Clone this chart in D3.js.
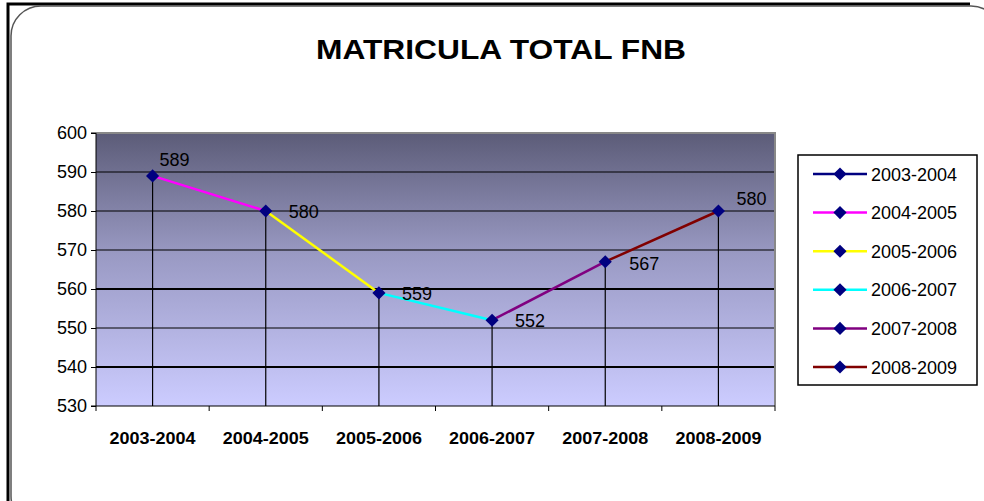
<!DOCTYPE html>
<html>
<head>
<meta charset="utf-8">
<script src="https://cdn.jsdelivr.net/npm/d3@7"></script>
<style>
  body { margin: 0; background: #fff; }
  svg { display: block; }
</style>
</head>
<body>
<svg id="chart"></svg>
<script>
// school years (categories) and total enrolment
const years = ["2003-2004", "2004-2005", "2005-2006", "2006-2007", "2007-2008", "2008-2009"];
const totals = [589, 580, 559, 552, 567, 580];
// each series joins the previous year to its own year
const seriesColors = ["#000080", "#ff00ff", "#ffff00", "#00ffff", "#800080", "#800000"];
const yTicks = [530, 540, 550, 560, 570, 580, 590, 600];

const width = 984, height = 501;
const margin = {top: 133, right: 209, bottom: 95, left: 96};
const font = "Liberation Sans, Arial, sans-serif";

const svg = d3.select("#chart")
    .attr("width", width)
    .attr("height", height);

// frame
svg.append("path")
    .attr("d", "M8,501 V4 H970")
    .attr("fill", "none")
    .attr("stroke", "#000")
    .attr("stroke-width", 3);
svg.append("rect")
    .attr("x", 11).attr("y", 6)
    .attr("width", 990).attr("height", 520)
    .attr("rx", 30)
    .attr("fill", "none")
    .attr("stroke", "#555")
    .attr("stroke-width", 1.5);

svg.append("text")
    .attr("x", 501)
    .attr("y", 59)
    .attr("text-anchor", "middle")
    .attr("font-family", font)
    .attr("font-weight", "bold")
    .attr("font-size", 28)
    .attr("textLength", 370)
    .attr("lengthAdjust", "spacingAndGlyphs")
    .text("MATRICULA TOTAL FNB");

const plotW = width - margin.left - margin.right;
const plotH = height - margin.top - margin.bottom;

const x = d3.scaleBand().domain(years).range([0, plotW]);
const y = d3.scaleLinear().domain([530, 600]).range([plotH, 0]);

const defs = svg.append("defs");
const grad = defs.append("linearGradient")
    .attr("id", "bg")
    .attr("x1", 0).attr("y1", 0).attr("x2", 0).attr("y2", 1);
grad.append("stop").attr("offset", "0%").attr("stop-color", "#5c5c78");
grad.append("stop").attr("offset", "45%").attr("stop-color", "#9a9ac4");
grad.append("stop").attr("offset", "100%").attr("stop-color", "#ccccff");

const g = svg.append("g")
    .attr("transform", `translate(${margin.left},${margin.top})`);

g.append("rect")
    .attr("width", plotW)
    .attr("height", plotH)
    .attr("fill", "url(#bg)");

// horizontal gridlines
g.append("g")
    .selectAll("line")
    .data(yTicks.slice(1, -1))
    .join("line")
    .attr("x1", 0).attr("x2", plotW)
    .attr("y1", d => y(d)).attr("y2", d => y(d))
    .attr("stroke", "#000")
    .attr("stroke-width", d => (d === 560 || d === 540) ? 2 : 1.2);

// plot border top / right
g.append("path")
    .attr("d", `M0,0 H${plotW} V${plotH}`)
    .attr("fill", "none")
    .attr("stroke", "#888")
    .attr("stroke-width", 2);

// drop lines
g.append("g")
    .selectAll("line")
    .data(years)
    .join("line")
    .attr("x1", d => x(d) + x.bandwidth() / 2)
    .attr("x2", d => x(d) + x.bandwidth() / 2)
    .attr("y1", (d, i) => y(totals[i]))
    .attr("y2", plotH)
    .attr("stroke", "#000")
    .attr("stroke-width", 1.2);

// y axis
const yAxis = g.append("g")
    .call(d3.axisLeft(y).tickValues(yTicks).tickSize(5).tickFormat(d3.format("d")));
yAxis.select(".domain").attr("stroke", "#000").attr("d", `M-5,0 H0 V${plotH} H-5`);
yAxis.selectAll("text")
    .attr("font-family", font)
    .attr("font-size", 18)
    .attr("fill", "#000")
    .attr("dx", -1);

// x axis with ticks on band edges
const xEdges = d3.range(years.length + 1).map(i => i * x.step());
const xAxis = g.append("g").attr("transform", `translate(0,${plotH})`);
xAxis.append("line")
    .attr("x1", 0).attr("x2", plotW)
    .attr("stroke", "#000").attr("stroke-width", 1);
xAxis.selectAll(".tick")
    .data(xEdges)
    .join("line")
    .attr("class", "tick")
    .attr("x1", d => d).attr("x2", d => d)
    .attr("y1", 0).attr("y2", 5)
    .attr("stroke", "#000");
xAxis.selectAll(".lbl")
    .data(years)
    .join("text")
    .attr("class", "lbl")
    .attr("x", d => x(d) + x.bandwidth() / 2)
    .attr("y", 38)
    .attr("text-anchor", "middle")
    .attr("font-family", font)
    .attr("font-weight", "bold")
    .attr("font-size", 17)
    .attr("textLength", 86)
    .attr("lengthAdjust", "spacingAndGlyphs")
    .text(d => d);

// coloured segments, one series per year
const px = i => x(years[i]) + x.bandwidth() / 2;
g.append("g")
    .selectAll("line")
    .data(d3.range(1, years.length))
    .join("line")
    .attr("x1", i => px(i - 1)).attr("y1", i => y(totals[i - 1]))
    .attr("x2", i => px(i)).attr("y2", i => y(totals[i]))
    .attr("stroke", i => seriesColors[i])
    .attr("stroke-width", 2.5);

const diamond = d3.symbol().type(d3.symbolDiamond2).size(110);
g.append("g")
    .selectAll("path")
    .data(totals)
    .join("path")
    .attr("transform", (d, i) => `translate(${px(i)},${y(d)})`)
    .attr("d", diamond)
    .attr("fill", "#000080");

// value labels
const labelOffsets = [[7, -10], [23, 7], [23, 7], [23, 7], [24, 8], [18, -6]];
g.append("g")
    .selectAll("text")
    .data(totals)
    .join("text")
    .attr("x", (d, i) => px(i) + labelOffsets[i][0])
    .attr("y", (d, i) => y(d) + labelOffsets[i][1])
    .attr("font-family", font)
    .attr("font-size", 18)
    .attr("fill", "#000")
    .text(d => d);

// legend
const legend = svg.append("g").attr("transform", "translate(798,155)");
legend.append("rect")
    .attr("width", 179).attr("height", 230)
    .attr("fill", "#fff")
    .attr("stroke", "#000")
    .attr("stroke-width", 1.5);
const item = legend.selectAll(".item")
    .data(years)
    .join("g")
    .attr("class", "item")
    .attr("transform", (d, i) => `translate(0,${19 + i * 38.6})`);
item.append("line")
    .attr("x1", 15).attr("x2", 69)
    .attr("stroke", (d, i) => seriesColors[i])
    .attr("stroke-width", 2.5);
item.append("path")
    .attr("transform", "translate(42,0)")
    .attr("d", diamond)
    .attr("fill", "#000080");
item.append("text")
    .attr("x", 73)
    .attr("y", 6.5)
    .attr("font-family", font)
    .attr("font-size", 18)
    .text(d => d);
</script>
</body>
</html>
